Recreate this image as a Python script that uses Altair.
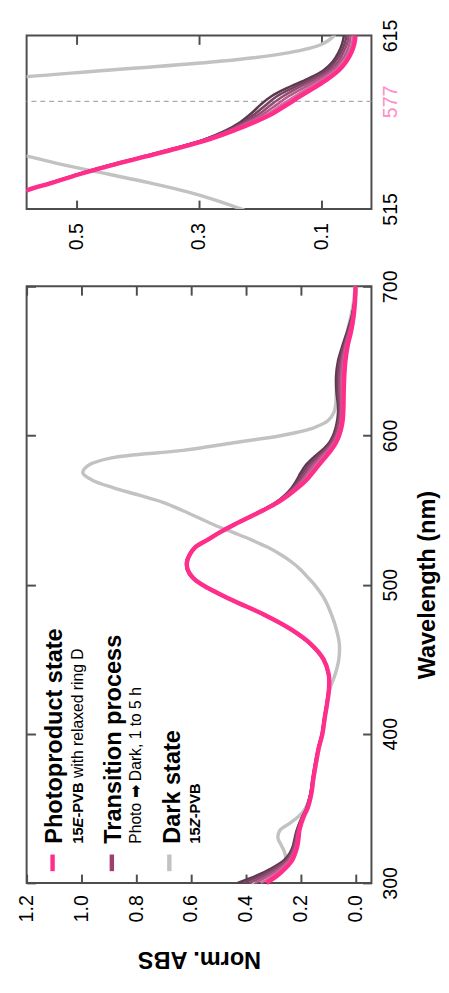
import altair as alt
import pandas as pd

# ---------------- data ----------------
wavelength = [300, 305, 310, 315, 320, 325, 330, 335, 340, 345, 350,
              360, 370, 380, 390, 400, 410, 420, 430, 440, 450, 460, 470, 480, 490, 500,
              505, 510, 515, 520, 525, 530, 535, 540, 545, 550, 555, 560, 565, 570, 575,
              580, 585, 590, 595, 600, 605, 610, 615,
              620, 630, 640, 650, 660, 670, 680, 690, 700]

photoproduct = [0.325, 0.285, 0.255, 0.232, 0.220, 0.212, 0.208, 0.205, 0.198, 0.188, 0.175,
                0.161, 0.154, 0.145, 0.135, 0.121, 0.113, 0.104, 0.097, 0.098, 0.117, 0.162, 0.235, 0.335, 0.455, 0.560,
                0.595, 0.612, 0.615, 0.605, 0.585, 0.540, 0.495, 0.445, 0.390, 0.335, 0.285, 0.245, 0.210, 0.180, 0.157,
                0.135, 0.112, 0.090, 0.072, 0.060, 0.052, 0.047, 0.045,
                0.044, 0.043, 0.041, 0.037, 0.029, 0.016, 0.007, 0.002, 0.000]

transition_1h = [0.346, 0.300, 0.265, 0.238, 0.224, 0.215, 0.211, 0.207, 0.199, 0.189, 0.176,
                 0.162, 0.155, 0.146, 0.135, 0.121, 0.113, 0.104, 0.097, 0.098, 0.117, 0.163, 0.236, 0.336, 0.456, 0.561,
                 0.596, 0.613, 0.616, 0.606, 0.586, 0.541, 0.496, 0.446, 0.391, 0.336, 0.286, 0.248, 0.215, 0.187, 0.166,
                 0.144, 0.121, 0.097, 0.077, 0.064, 0.056, 0.051, 0.049,
                 0.048, 0.048, 0.047, 0.042, 0.033, 0.019, 0.008, 0.002, 0.000]
transition_2h = [0.367, 0.315, 0.275, 0.244, 0.228, 0.218, 0.214, 0.209, 0.201, 0.190, 0.177,
                 0.163, 0.155, 0.146, 0.136, 0.122, 0.114, 0.105, 0.098, 0.099, 0.118, 0.163, 0.236, 0.336, 0.456, 0.561,
                 0.596, 0.613, 0.616, 0.606, 0.586, 0.541, 0.496, 0.446, 0.392, 0.337, 0.288, 0.250, 0.219, 0.194, 0.174,
                 0.154, 0.129, 0.103, 0.082, 0.069, 0.060, 0.055, 0.053,
                 0.052, 0.054, 0.053, 0.048, 0.037, 0.022, 0.010, 0.003, 0.000]
transition_3h = [0.388, 0.330, 0.285, 0.250, 0.232, 0.222, 0.216, 0.211, 0.202, 0.191, 0.178,
                 0.163, 0.156, 0.147, 0.136, 0.122, 0.114, 0.105, 0.098, 0.099, 0.118, 0.164, 0.237, 0.337, 0.457, 0.562,
                 0.597, 0.614, 0.617, 0.607, 0.587, 0.542, 0.497, 0.447, 0.392, 0.338, 0.289, 0.253, 0.224, 0.201, 0.183,
                 0.163, 0.138, 0.110, 0.087, 0.073, 0.065, 0.059, 0.056,
                 0.056, 0.059, 0.059, 0.053, 0.040, 0.024, 0.011, 0.003, 0.000]
transition_4h = [0.409, 0.345, 0.295, 0.256, 0.236, 0.225, 0.219, 0.213, 0.204, 0.192, 0.179,
                 0.164, 0.156, 0.147, 0.137, 0.123, 0.115, 0.106, 0.099, 0.100, 0.119, 0.164, 0.237, 0.337, 0.457, 0.562,
                 0.597, 0.614, 0.617, 0.607, 0.587, 0.542, 0.497, 0.447, 0.393, 0.339, 0.291, 0.255, 0.228, 0.208, 0.191,
                 0.173, 0.146, 0.116, 0.092, 0.078, 0.069, 0.063, 0.060,
                 0.060, 0.065, 0.065, 0.059, 0.044, 0.027, 0.013, 0.004, 0.000]
transition_5h = [0.430, 0.360, 0.305, 0.262, 0.240, 0.228, 0.222, 0.215, 0.205, 0.193, 0.180,
                 0.165, 0.157, 0.148, 0.137, 0.123, 0.115, 0.106, 0.099, 0.100, 0.119, 0.165, 0.238, 0.338, 0.458, 0.563,
                 0.598, 0.615, 0.618, 0.608, 0.588, 0.543, 0.498, 0.448, 0.394, 0.340, 0.292, 0.258, 0.233, 0.215, 0.200,
                 0.182, 0.155, 0.123, 0.097, 0.082, 0.073, 0.067, 0.064,
                 0.064, 0.070, 0.071, 0.064, 0.048, 0.030, 0.014, 0.004, 0.000]

dark_state = [0.380, 0.320, 0.280, 0.255, 0.258, 0.270, 0.283, 0.277, 0.240, 0.205, 0.183,
              0.162, 0.152, 0.143, 0.133, 0.120, 0.112, 0.104, 0.094, 0.074, 0.061, 0.059, 0.070, 0.088, 0.112, 0.150,
              0.175, 0.200, 0.232, 0.272, 0.320, 0.380, 0.447, 0.515, 0.575, 0.635, 0.700, 0.790, 0.885, 0.960, 0.995,
              0.975, 0.890, 0.630, 0.450, 0.270, 0.155, 0.100, 0.080,
              0.073, 0.070, 0.068, 0.060, 0.045, 0.030, 0.017, 0.007, 0.002]

abs_ticks_main = [0.0, 0.2, 0.4, 0.6, 0.8, 1.0, 1.2]
wl_ticks_main = [300, 400, 500, 600, 700]
abs_ticks_inset = [0.1, 0.3, 0.5]
wl_ticks_inset = [515, 577, 615]
marker_wl = [577]

legend_titles = ["Photoproduct state", "Transition process", "Dark state"]

# ---------------- styling ----------------
FONT = "Liberation Sans"
FRAME = "#4d4d4d"
TICK = 9
PINK = "#ff2e8b"
GRAY = "#c2c2c2"
trans_names = ["t5", "t4", "t3", "t2", "t1"]
trans_colors = ["#5c3a4e", "#784262", "#954c74", "#b45a88", "#d46a9c"]

series = {"dark": dark_state,
          "t5": transition_5h, "t4": transition_4h, "t3": transition_3h,
          "t2": transition_2h, "t1": transition_1h,
          "photo": photoproduct}
df = pd.concat([pd.DataFrame({"wl": wavelength, "abs": v, "series": k})
                for k, v in series.items()], ignore_index=True)


def spectra(xscale, yscale, ax_x1, ax_y1, ax_x2, ax_y2, clip):
    base = alt.Chart(df)
    gray = base.transform_filter("datum.series == 'dark'").mark_line(
        color=GRAY, strokeWidth=3.5, interpolate="catmull-rom", clip=clip
    ).encode(
        x=alt.X("abs:Q", scale=xscale, axis=ax_x1),
        y=alt.Y("wl:Q", scale=yscale, axis=ax_y1),
        order=alt.Order("wl:Q"),
    )
    trans = base.transform_filter(
        "indexof(['t5','t4','t3','t2','t1'], datum.series) >= 0"
    ).mark_line(strokeWidth=2.6, interpolate="catmull-rom", clip=clip).encode(
        x=alt.X("abs:Q", scale=xscale, axis=None),
        y=alt.Y("wl:Q", scale=yscale, axis=None),
        color=alt.Color("series:N", scale=alt.Scale(domain=trans_names, range=trans_colors), legend=None),
        order=alt.Order("wl:Q"),
    )
    pink = base.transform_filter("datum.series == 'photo'").mark_line(
        color=PINK, strokeWidth=4.5, interpolate="catmull-rom", clip=clip
    ).encode(
        x=alt.X("abs:Q", scale=xscale, axis=ax_x2),
        y=alt.Y("wl:Q", scale=yscale, axis=ax_y2),
        order=alt.Order("wl:Q"),
    )
    return gray, trans, pink


# ---------------- inset (515-615 nm) ----------------
x_in = alt.Scale(domain=[0.019, 0.581], reverse=True, nice=False, zero=False)
y_in = alt.Scale(domain=[515, 615], nice=False, zero=False)

ax_in_bottom = alt.Axis(orient="bottom", values=abs_ticks_inset, format=".1f",
                        labelAngle=270, labelAlign="right", labelBaseline="middle",
                        labelPadding=14, offset=-TICK, tickSize=TICK, title=None)
ax_in_top = alt.Axis(orient="top", values=abs_ticks_inset, labels=False,
                     offset=-TICK, tickSize=TICK, title=None)
ax_in_right = alt.Axis(orient="right", values=wl_ticks_inset, format="d",
                       labelAngle=270, labelAlign="center", labelBaseline="top",
                       labelPadding=10, ticks=False, tickSize=0, title=None,
                       labelColor={"condition": {"test": "datum.value == 577", "value": "#ff8cc6"},
                                   "value": "#000000"})

g_in, t_in, p_in = spectra(x_in, y_in, ax_in_bottom, ax_in_right, ax_in_top, None, True)
marker = alt.Chart(pd.DataFrame({"wl": marker_wl})).mark_rule(
    color="#aaaaaa", strokeWidth=1.4, strokeDash=[5, 4]
).encode(y=alt.Y("wl:Q", scale=y_in, axis=None))

inset = alt.layer(g_in, marker, t_in, p_in).resolve_axis(
    x="independent", y="independent"
).properties(width=352, height=177)

# ---------------- main panel ----------------
x_main = alt.Scale(domain=[-0.058, 1.2], reverse=True, nice=False, zero=False)
y_main = alt.Scale(domain=[300, 700], nice=False, zero=False)

ax_bottom = alt.Axis(orient="bottom", values=abs_ticks_main, format=".1f",
                     labelAngle=270, labelAlign="right", labelBaseline="middle",
                     labelPadding=12, offset=-TICK, tickSize=TICK,
                     title="Norm. ABS", titleAngle=180, titleX=176, titleY=79,
                     titleAlign="center", titleBaseline="alphabetic")
ax_top = alt.Axis(orient="top", values=abs_ticks_main, labels=False,
                  offset=-TICK, tickSize=TICK, title=None)
ax_right = alt.Axis(orient="right", values=wl_ticks_main, format="d",
                    labelAngle=270, labelAlign="center", labelBaseline="top",
                    labelPadding=10, offset=-TICK, tickSize=TICK,
                    title="Wavelength (nm)", titleAngle=270, titleX=73.5, titleY=304.5,
                    titleAlign="center", titleBaseline="alphabetic")
ax_left = alt.Axis(orient="left", values=wl_ticks_main, labels=False,
                   offset=-TICK, tickSize=TICK, title=None)

g_m, t_m, p_m = spectra(x_main, y_main, ax_bottom, ax_right, ax_top, ax_left, False)

one = pd.DataFrame({"k": [0]})


def ltext(text, x, y, size, weight="normal", style="normal"):
    return alt.Chart(one).mark_text(
        text=text, angle=270, align="left", baseline="alphabetic", font=FONT,
        fontSize=size, fontWeight=weight, fontStyle=style, color="black"
    ).encode(x=alt.value(x), y=alt.value(y))


def swatch(color, x):
    return alt.Chart(one).mark_rule(color=color, strokeWidth=4.5).encode(
        x=alt.value(x), y=alt.value(580), y2=alt.value(597))


Y0 = 569
S1, S3 = 57.5, 176.5
legend_layers = [
    swatch(PINK, 26.5), swatch("#9e3f6e", 87.0), swatch(GRAY, 145.7),
    ltext(legend_titles[0], 36.2, Y0, 24, "bold"),
    ltext(legend_titles[1], 96.5, Y0, 24, "bold"),
    ltext(legend_titles[2], 156.2, Y0, 24, "bold"),
    # 15E-PVB with relaxed ring D
    ltext("15", S1, Y0, 15, "bold"),
    ltext("E", S1, Y0 - 16.7, 15, "bold", "italic"),
    ltext("-PVB", S1, Y0 - 26.7, 15, "bold"),
    ltext("with relaxed ring D", S1, Y0 - 67.0, 16),
    # Photo -> Dark
    ltext("Photo \u27a1 Dark, 1 to 5 h", 117.2, Y0, 16),
    # 15Z-PVB
    ltext("15", S3, Y0, 15, "bold"),
    ltext("Z", S3, Y0 - 16.7, 15, "bold", "italic"),
    ltext("-PVB", S3, Y0 - 25.9, 15, "bold"),
]

main = alt.layer(g_m, t_m, p_m, *legend_layers).resolve_axis(
    x="independent", y="independent"
).properties(width=352, height=609)

chart = alt.vconcat(inset, main, spacing=18).properties(
    padding={"left": 8, "top": 0, "right": 0, "bottom": 0}
).configure_axis(
    labelFont=FONT, labelFontSize=20, labelColor="#000000",
    titleFont=FONT, titleFontSize=24, titleFontWeight="bold", titleColor="#000000",
    tickColor=FRAME, tickWidth=2, domain=False, grid=False, minExtent=0
).configure_axisY(minExtent=0).configure_axisX(minExtent=0).configure_view(
    stroke=FRAME, strokeWidth=2)

chart.save("out.html", embed_options={"renderer": "svg", "actions": False})
